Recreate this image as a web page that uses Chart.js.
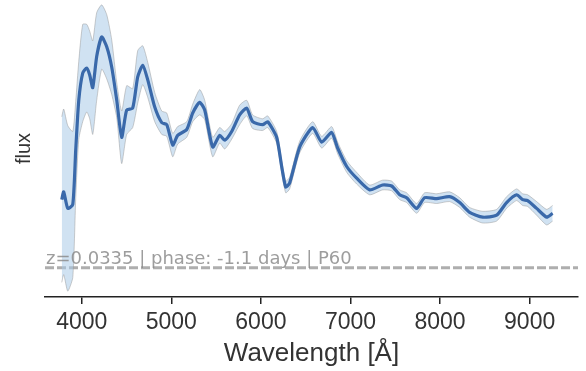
<!DOCTYPE html>
<html>
<head>
<meta charset="utf-8">
<script src="https://cdn.jsdelivr.net/npm/chart.js@4"></script>
<style>
  body { margin: 0; background: #fff; }
  #wrap { width: 586px; height: 371px; }
</style>
</head>
<body>
<div id="wrap"><canvas id="specchart"></canvas></div>
<script>
// spectrum
const wavelength = [3777, 3799, 3844, 3900, 3933, 3967, 4011, 4056, 4089, 4123, 4167, 4223, 4279, 4335, 4391, 4446, 4502, 4569, 4625, 4681, 4737, 4815, 4893, 4949, 5016, 5071, 5172, 5239, 5317, 5373, 5462, 5540, 5596, 5674, 5763, 5842, 5908, 6020, 6076, 6176, 6232, 6277, 6321, 6433, 6578, 6679, 6790, 6857, 6958, 7069, 7214, 7359, 7460, 7549, 7627, 7739, 7828, 7962, 8107, 8219, 8330, 8475, 8632, 8743, 8855, 8922, 8978, 9078, 9190, 9257];
const flux = [1.00, 1.08, 0.91, 0.95, 1.51, 2.02, 2.30, 2.35, 2.28, 2.15, 2.47, 2.67, 2.57, 2.36, 2.02, 1.64, 1.92, 1.94, 2.26, 2.38, 2.23, 1.95, 1.79, 1.77, 1.56, 1.66, 1.72, 1.89, 2.00, 1.92, 1.54, 1.66, 1.61, 1.70, 1.87, 1.94, 1.80, 1.77, 1.80, 1.64, 1.34, 1.13, 1.17, 1.54, 1.74, 1.59, 1.69, 1.53, 1.34, 1.22, 1.10, 1.15, 1.14, 1.05, 1.02, 0.91, 1.02, 1.01, 1.03, 0.97, 0.87, 0.82, 0.84, 0.97, 1.05, 1.00, 0.99, 0.91, 0.82, 0.86];
const fluxErr = [0.85, 0.85, 0.85, 0.75, 0.50, 0.40, 0.50, 0.45, 0.45, 0.48, 0.45, 0.33, 0.33, 0.28, 0.18, 0.27, 0.25, 0.20, 0.27, 0.20, 0.18, 0.15, 0.12, 0.12, 0.12, 0.09, 0.08, 0.09, 0.13, 0.10, 0.10, 0.08, 0.09, 0.08, 0.10, 0.08, 0.07, 0.06, 0.06, 0.06, 0.06, 0.06, 0.06, 0.06, 0.06, 0.06, 0.06, 0.06, 0.06, 0.06, 0.05, 0.05, 0.05, 0.05, 0.05, 0.05, 0.05, 0.05, 0.05, 0.05, 0.05, 0.06, 0.06, 0.06, 0.06, 0.06, 0.06, 0.07, 0.08, 0.08];
const xTicks = [4000, 5000, 6000, 7000, 8000, 9000];
const xRange = [3590, 9540];
const baseline = 0.3;
const infoText = 'z=0.0335 | phase: -1.1 days | P60';

const upper = wavelength.map((w, i) => ({x: w, y: flux[i] + fluxErr[i]}));
const lower = wavelength.map((w, i) => ({x: w, y: flux[i] - fluxErr[i]}));
const spec = wavelength.map((w, i) => ({x: w, y: flux[i]}));

const infoLabel = {
    id: 'infoLabel',
    afterDatasetsDraw(chart) {
        const c = chart.ctx;
        c.save();
        c.font = '18px "DejaVu Sans"';
        c.fillStyle = 'rgba(140,140,140,0.85)';
        c.textBaseline = 'alphabetic';
        c.fillText(infoText, chart.chartArea.left + 1, 264);
        c.restore();
    }
};

const ctx = document.getElementById('specchart').getContext('2d');
const specchart = new Chart(ctx, {
    type: 'line',
    data: {
        datasets: [
            {
                data: spec,
                borderColor: 'rgb(58,105,170)',
                borderWidth: 3.2,
                pointRadius: 0,
                tension: 0.2,
                fill: false,
                order: 0
            },
            {
                data: upper,
                borderColor: 'rgba(150,150,150,0.6)',
                borderWidth: 0.8,
                pointRadius: 0,
                tension: 0.2,
                fill: false,
                order: 1
            },
            {
                data: lower,
                borderColor: 'rgba(150,150,150,0.6)',
                backgroundColor: 'rgba(170,202,232,0.55)',
                borderWidth: 0.8,
                pointRadius: 0,
                tension: 0.2,
                fill: '-1',
                order: 1
            },
            {
                data: xRange.map(w => ({x: w, y: baseline})),
                borderColor: 'rgba(165,165,165,0.9)',
                borderWidth: 3,
                borderDash: [9, 3],
                pointRadius: 0,
                order: 2
            }
        ]
    },
    options: {
        responsive: true,
        maintainAspectRatio: false,
        animation: false,
        layout: { padding: { top: 0, right: 8, bottom: 0, left: 0 } },
        plugins: { legend: { display: false }, tooltip: { enabled: false } },
        scales: {
            x: {
                type: 'linear',
                min: xRange[0],
                max: xRange[1],
                afterBuildTicks: s => { s.ticks = xTicks.map(v => ({value: v})); },
                afterFit: s => { s.height = 74; },
                ticks: {
                    font: { family: '"Liberation Sans", Arial', size: 23 },
                    color: '#333',
                    padding: 5,
                    maxRotation: 0,
                    callback: v => String(v)
                },
                grid: { drawOnChartArea: false, tickLength: 7, color: '#222', lineWidth: 1.5 },
                border: { display: true, color: '#222', width: 1.5 },
                title: {
                    display: true,
                    text: 'Wavelength [Å]',
                    font: { family: '"Liberation Sans", Arial', size: 26 },
                    color: '#333',
                    padding: { top: 0, bottom: 2 }
                }
            },
            y: {
                min: 0,
                max: 3.05,
                afterFit: s => { s.width = 45; },
                ticks: { display: false },
                grid: { display: false },
                border: { display: false },
                title: {
                    display: true,
                    text: 'flux',
                    font: { family: '"Liberation Sans", Arial', size: 20 },
                    color: '#333',
                    padding: { top: 12, bottom: 0 }
                }
            }
        }
    },
    plugins: [infoLabel]
});
</script>
</body>
</html>
